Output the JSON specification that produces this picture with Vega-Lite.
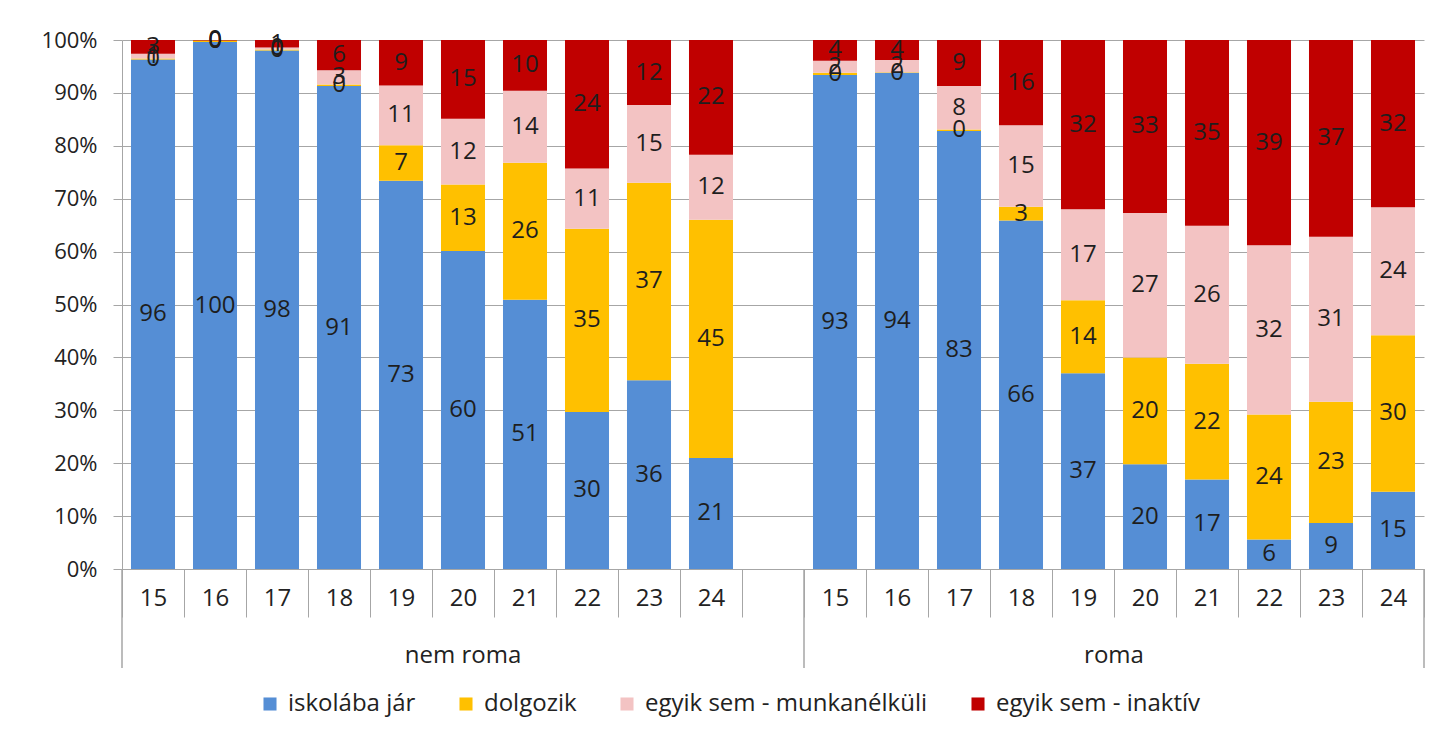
{
  "$schema": "https://vega.github.io/schema/vega-lite/v6.json",
  "width": 1302,
  "height": 529,
  "autosize": {"type": "none"},
  "padding": {"left": 122, "top": 40, "right": 14, "bottom": 174},
  "background": "white",
  "config": {"font": "Open Sans", "view": {"stroke": null}},
  "datasets": {
    "bars": [
      {"key": "nem roma|15", "iskolába jár": 96.4, "dolgozik": 0.2, "egyik sem - munkanélküli": 0.9, "egyik sem - inaktív": 2.6},
      {"key": "nem roma|16", "iskolába jár": 99.6, "dolgozik": 0.3, "egyik sem - munkanélküli": 0.0, "egyik sem - inaktív": 0.1},
      {"key": "nem roma|17", "iskolába jár": 98.0, "dolgozik": 0.2, "egyik sem - munkanélküli": 0.4, "egyik sem - inaktív": 1.4},
      {"key": "nem roma|18", "iskolába jár": 91.3, "dolgozik": 0.3, "egyik sem - munkanélküli": 2.7, "egyik sem - inaktív": 5.7},
      {"key": "nem roma|19", "iskolába jár": 73.4, "dolgozik": 6.7, "egyik sem - munkanélküli": 11.3, "egyik sem - inaktív": 8.6},
      {"key": "nem roma|20", "iskolába jár": 60.1, "dolgozik": 12.6, "egyik sem - munkanélküli": 12.4, "egyik sem - inaktív": 14.9},
      {"key": "nem roma|21", "iskolába jár": 50.9, "dolgozik": 25.9, "egyik sem - munkanélküli": 13.6, "egyik sem - inaktív": 9.6},
      {"key": "nem roma|22", "iskolába jár": 29.7, "dolgozik": 34.6, "egyik sem - munkanélküli": 11.4, "egyik sem - inaktív": 24.3},
      {"key": "nem roma|23", "iskolába jár": 35.7, "dolgozik": 37.3, "egyik sem - munkanélküli": 14.7, "egyik sem - inaktív": 12.3},
      {"key": "nem roma|24", "iskolába jár": 21.0, "dolgozik": 45.0, "egyik sem - munkanélküli": 12.3, "egyik sem - inaktív": 21.7},
      {"key": "roma|15", "iskolába jár": 93.4, "dolgozik": 0.4, "egyik sem - munkanélküli": 2.3, "egyik sem - inaktív": 3.9},
      {"key": "roma|16", "iskolába jár": 93.8, "dolgozik": 0.1, "egyik sem - munkanélküli": 2.3, "egyik sem - inaktív": 3.8},
      {"key": "roma|17", "iskolába jár": 82.8, "dolgozik": 0.3, "egyik sem - munkanélküli": 8.2, "egyik sem - inaktív": 8.7},
      {"key": "roma|18", "iskolába jár": 65.9, "dolgozik": 2.6, "egyik sem - munkanélküli": 15.4, "egyik sem - inaktív": 16.1},
      {"key": "roma|19", "iskolába jár": 37.0, "dolgozik": 13.8, "egyik sem - munkanélküli": 17.2, "egyik sem - inaktív": 32.0},
      {"key": "roma|20", "iskolába jár": 19.8, "dolgozik": 20.2, "egyik sem - munkanélküli": 27.3, "egyik sem - inaktív": 32.7},
      {"key": "roma|21", "iskolába jár": 16.9, "dolgozik": 21.9, "egyik sem - munkanélküli": 26.1, "egyik sem - inaktív": 35.1},
      {"key": "roma|22", "iskolába jár": 5.6, "dolgozik": 23.6, "egyik sem - munkanélküli": 32.0, "egyik sem - inaktív": 38.8},
      {"key": "roma|23", "iskolába jár": 8.7, "dolgozik": 22.9, "egyik sem - munkanélküli": 31.2, "egyik sem - inaktív": 37.2},
      {"key": "roma|24", "iskolába jár": 14.6, "dolgozik": 29.6, "egyik sem - munkanélküli": 24.2, "egyik sem - inaktív": 31.6}
    ],
    "statusOrder": [
      {"status": "iskolába jár", "k": 1},
      {"status": "dolgozik", "k": 2},
      {"status": "egyik sem - munkanélküli", "k": 3},
      {"status": "egyik sem - inaktív", "k": 4}
    ],
    "edgesStart": [{"key": "nem roma|15"}, {"key": "roma|15"}],
    "edgesEnd": [{"key": "roma|24"}],
    "groupA": [{"key": "nem roma|20", "g": "nem roma"}],
    "groupB": [{"key": "roma|20", "g": "roma"}]
  },
  "layer": [
    {
      "data": {"name": "bars"},
      "transform": [
        {"fold": ["iskolába jár", "dolgozik", "egyik sem - munkanélküli", "egyik sem - inaktív"], "as": ["status", "pct"]},
        {"lookup": "status", "from": {"data": {"name": "statusOrder"}, "key": "status", "fields": ["k"]}}
      ],
      "mark": {"type": "bar", "width": {"band": 0.71}},
      "encoding": {
        "x": {
          "field": "key", "type": "nominal", "title": null,
          "scale": {
            "domain": ["nem roma|15", "nem roma|16", "nem roma|17", "nem roma|18", "nem roma|19", "nem roma|20", "nem roma|21", "nem roma|22", "nem roma|23", "nem roma|24", "nem roma|", "roma|15", "roma|16", "roma|17", "roma|18", "roma|19", "roma|20", "roma|21", "roma|22", "roma|23", "roma|24"],
            "paddingInner": 0, "paddingOuter": 0
          },
          "axis": {
            "labelExpr": "split(datum.value, '|')[1]",
            "labelAngle": 0, "labelFontSize": 24, "labelColor": "#222222",
            "tickBand": "extent", "tickSize": 48, "labelPadding": -31,
            "tickColor": "#A6A6A6", "domainColor": "#A6A6A6", "grid": false
          }
        },
        "y": {
          "field": "pct", "type": "quantitative", "stack": "normalize", "title": null,
          "scale": {"domain": [0, 1], "nice": false},
          "axis": {
            "values": [0, 0.1, 0.2, 0.3, 0.4, 0.5, 0.6, 0.7, 0.8, 0.9, 1],
            "format": ".0%", "labelFontSize": 22, "labelColor": "#222222",
            "tickSize": 9, "labelPadding": 16, "tickColor": "#A6A6A6",
            "domainColor": "#A6A6A6", "gridColor": "#A6A6A6", "grid": true
          }
        },
        "order": {"field": "k", "type": "quantitative"},
        "color": {
          "field": "status", "type": "nominal",
          "scale": {
            "domain": ["iskolába jár", "dolgozik", "egyik sem - munkanélküli", "egyik sem - inaktív"],
            "range": ["#558ED5", "#FFC000", "#F3C3C3", "#C00000"]
          },
          "legend": {
            "title": null, "orient": "none", "direction": "horizontal",
            "legendX": 136, "legendY": 652,
            "symbolType": "square", "symbolSize": 170, "symbolStrokeWidth": 0,
            "labelFontSize": 24, "labelLimit": 0, "labelColor": "#222222", "columnPadding": 38, "labelOffset": 6
          }
        }
      }
    },
    {
      "data": {"name": "bars"},
      "transform": [
        {"fold": ["iskolába jár", "dolgozik", "egyik sem - munkanélküli", "egyik sem - inaktív"], "as": ["status", "pct"]},
        {"lookup": "status", "from": {"data": {"name": "statusOrder"}, "key": "status", "fields": ["k"]}}
      ],
      "mark": {"type": "text", "fontSize": 24, "baseline": "middle", "align": "center", "color": "#1E1E1E"},
      "encoding": {
        "x": {"field": "key", "type": "nominal", "title": null},
        "y": {"field": "pct", "type": "quantitative", "stack": "normalize", "bandPosition": 0.5, "title": null},
        "order": {"field": "k", "type": "quantitative"},
        "detail": {"field": "status", "type": "nominal"},
        "text": {"field": "pct", "type": "quantitative", "format": ".0f"}
      }
    },
    {
      "data": {"name": "edgesStart"},
      "mark": {"type": "rule", "color": "#A6A6A6", "strokeWidth": 1.5},
      "encoding": {
        "x": {"field": "key", "type": "nominal", "bandPosition": 0, "title": null},
        "y": {"datum": 0, "type": "quantitative"},
        "y2": {"datum": -0.187}
      }
    },
    {
      "data": {"name": "edgesEnd"},
      "mark": {"type": "rule", "color": "#A6A6A6", "strokeWidth": 1.5},
      "encoding": {
        "x": {"field": "key", "type": "nominal", "bandPosition": 1, "title": null},
        "y": {"datum": 0, "type": "quantitative"},
        "y2": {"datum": -0.187}
      }
    },
    {
      "data": {"name": "groupA"},
      "mark": {"type": "text", "fontSize": 24, "color": "#222222", "baseline": "middle"},
      "encoding": {
        "x": {"field": "key", "type": "nominal", "bandPosition": 0.5, "title": null},
        "y": {"datum": -0.165, "type": "quantitative"},
        "text": {"field": "g"}
      }
    },
    {
      "data": {"name": "groupB"},
      "mark": {"type": "text", "fontSize": 24, "color": "#222222", "baseline": "middle"},
      "encoding": {
        "x": {"field": "key", "type": "nominal", "bandPosition": 0, "title": null},
        "y": {"datum": -0.165, "type": "quantitative"},
        "text": {"field": "g"}
      }
    }
  ]
}
